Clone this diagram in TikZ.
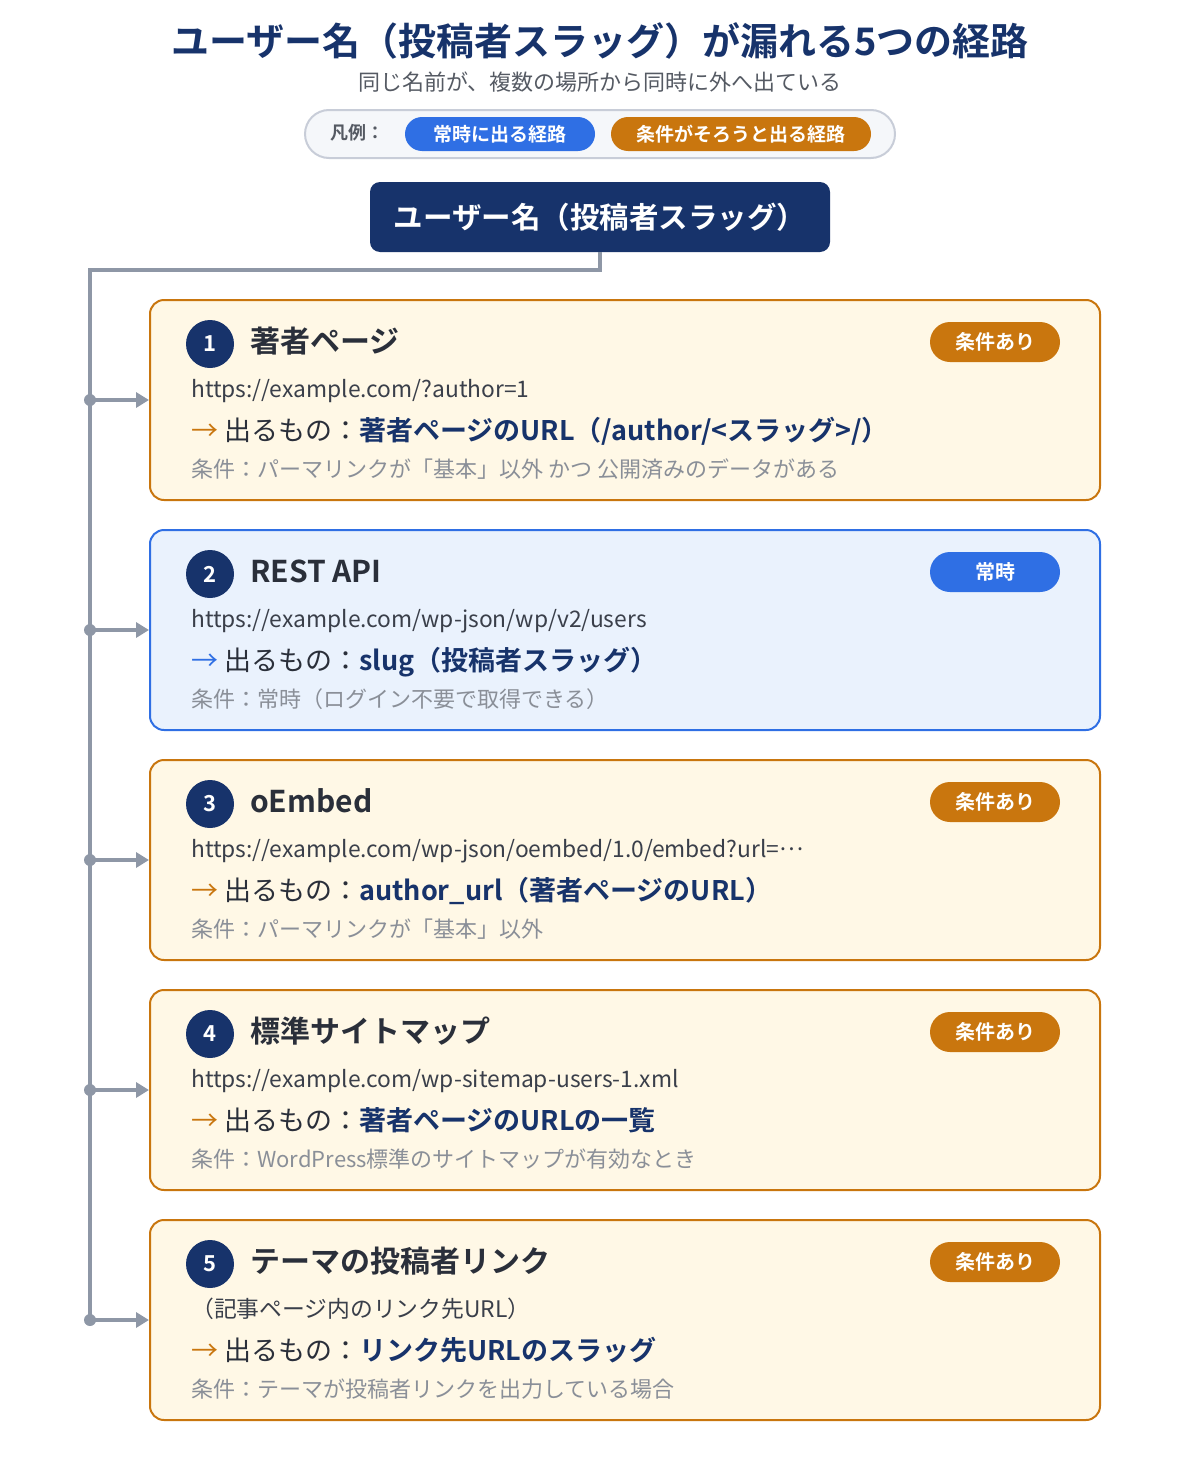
\documentclass[tikz,border=0pt]{standalone}
\usepackage{fontspec}
\setmainfont{Noto Sans CJK JP}[BoldFont={Noto Sans CJK JP Bold}]
\usepackage{tikz}
\usetikzlibrary{arrows.meta, positioning}

\definecolor{navy}{HTML}{17336B}
\definecolor{orangeC}{HTML}{C9760E}
\definecolor{blueC}{HTML}{2F6FE4}
\definecolor{cardO}{HTML}{FFF8E6}
\definecolor{cardB}{HTML}{EAF2FD}
\definecolor{wirecol}{HTML}{8E97A6}
\definecolor{darktext}{HTML}{2A2F3A}
\definecolor{urltext}{HTML}{3A3F4A}
\definecolor{condtext}{HTML}{8A8F98}
\definecolor{subgray}{HTML}{555A63}
\definecolor{legendfill}{HTML}{F5F7FA}
\definecolor{legendline}{HTML}{C8CDD8}

\begin{document}
\begin{tikzpicture}[x=1pt, y=-1pt, >={Triangle[length=13pt, width=15pt]}]
    \tikzstyle{txt} = [inner sep=0pt, anchor=base west]
    \tikzstyle{pill} = [text=white, inner sep=0pt, minimum height=34pt, rounded corners=17pt, font=\fontsize{19}{22}\selectfont\bfseries]
    \tikzstyle{card} = [draw=orangeC, line width=2pt, fill=cardO, rounded corners=14pt, minimum width=950pt, minimum height=200pt, inner sep=0pt]
    \tikzstyle{bluecard} = [card, draw=blueC, fill=cardB]
    \tikzstyle{numc} = [circle, fill=navy, text=white, minimum size=48pt, inner sep=0pt, font=\fontsize{22}{24}\selectfont\bfseries]
    \tikzstyle{badge} = [fill=orangeC, text=white, minimum width=130pt, minimum height=40pt, rounded corners=20pt, inner sep=0pt, font=\fontsize{20}{22}\selectfont\bfseries]
    \tikzstyle{cardtitle} = [txt, text=darktext, font=\fontsize{30}{34}\selectfont\bfseries]
    \tikzstyle{url} = [txt, text=urltext, font=\fontsize{22.8}{26}\selectfont]
    \tikzstyle{yield} = [txt, text=darktext, font=\fontsize{27}{30}\selectfont]
    \tikzstyle{cond} = [txt, text=condtext, font=\fontsize{22}{25}\selectfont]
    \tikzstyle{wire} = [draw=wirecol, line width=4pt]

    \useasboundingbox (0,0) rectangle (1200,1480);

    % header
    \node[font=\fontsize{38}{44}\selectfont\bfseries, text=navy] (title) at (600,41) {ユーザー名（投稿者スラッグ）が漏れる5つの経路};
    \node[font=\fontsize{22}{25}\selectfont, text=subgray] (subtitle) at (600,82) {同じ名前が、複数の場所から同時に外へ出ている};

    % legend
    \node[draw=legendline, line width=2pt, fill=legendfill, minimum width=590pt, minimum height=48pt, rounded corners=24pt] (legend) at (600,134) {};
    \node[font=\fontsize{18}{22}\selectfont\bfseries, text=subgray] (legendlabel) at (357,133) {凡例：};
    \node[pill, fill=blueC, minimum width=190pt] (legendA) at (500,134) {常時に出る経路};
    \node[pill, fill=orangeC, minimum width=260pt] (legendB) at (741,134) {条件がそろうと出る経路};

    % source
    \node[fill=navy, text=white, minimum width=460pt, minimum height=70pt, rounded corners=10pt, font=\fontsize{29.5}{32}\selectfont\bfseries] (user) at (600,217) {ユーザー名（投稿者スラッグ）};

    % cards
    \node[card] (card1) at (625,400) {};
    \node[bluecard] (card2) at (625,630) {};
    \node[card] (card3) at (625,860) {};
    \node[card] (card4) at (625,1090) {};
    \node[card] (card5) at (625,1320) {};

    % 1
    \node[numc] (num1) at (210,344) {1};
    \node[cardtitle] (title1) at (250,352) {著者ページ};
    \node[badge] (badge1) at (995,342) {条件あり};
    \node[url] (url1) at (191,397) {https://example.com/?author=1};
    \node[yield] (yield1) at (191,440) {{\color{orangeC}→} 出るもの：{\bfseries\color{navy}著者ページのURL（/author/<スラッグ>/）}};
    \node[cond] (cond1) at (191,477) {条件：パーマリンクが「基本」以外 かつ 公開済みのデータがある};

    % 2
    \node[numc] (num2) at (210,574) {2};
    \node[cardtitle] (title2) at (250,582) {REST API};
    \node[badge, fill=blueC] (badge2) at (995,572) {常時};
    \node[url] (url2) at (191,627) {https://example.com/wp-json/wp/v2/users};
    \node[yield] (yield2) at (191,670) {{\color{blueC}→} 出るもの：{\bfseries\color{navy}slug（投稿者スラッグ）}};
    \node[cond] (cond2) at (191,707) {条件：常時（ログイン不要で取得できる）};

    % 3
    \node[numc] (num3) at (210,804) {3};
    \node[cardtitle] (title3) at (250,812) {oEmbed};
    \node[badge] (badge3) at (995,802) {条件あり};
    \node[url] (url3) at (191,857) {https://example.com/wp-json/oembed/1.0/embed?url=\raisebox{0.3em}{…}};
    \node[yield] (yield3) at (191,900) {{\color{orangeC}→} 出るもの：{\bfseries\color{navy}author\_url（著者ページのURL）}};
    \node[cond] (cond3) at (191,937) {条件：パーマリンクが「基本」以外};

    % 4
    \node[numc] (num4) at (210,1034) {4};
    \node[cardtitle] (title4) at (250,1042) {標準サイトマップ};
    \node[badge] (badge4) at (995,1032) {条件あり};
    \node[url] (url4) at (191,1087) {https://example.com/wp-sitemap-users-1.xml};
    \node[yield] (yield4) at (191,1130) {{\color{orangeC}→} 出るもの：{\bfseries\color{navy}著者ページのURLの一覧}};
    \node[cond] (cond4) at (191,1167) {条件：WordPress標準のサイトマップが有効なとき};

    % 5
    \node[numc] (num5) at (210,1264) {5};
    \node[cardtitle] (title5) at (250,1272) {テーマの投稿者リンク};
    \node[badge] (badge5) at (995,1262) {条件あり};
    \node[url] (url5) at (191,1317) {（記事ページ内のリンク先URL）};
    \node[yield] (yield5) at (191,1360) {{\color{orangeC}→} 出るもの：{\bfseries\color{navy}リンク先URLのスラッグ}};
    \node[cond] (cond5) at (191,1397) {条件：テーマが投稿者リンクを出力している場合};

    % spine
    \coordinate (top) at (90,270);
    \coordinate (j1) at (90,400);
    \coordinate (j2) at (90,630);
    \coordinate (j3) at (90,860);
    \coordinate (j4) at (90,1090);
    \coordinate (j5) at (90,1320);

    \draw[wire] (user.south) |- (top) -- (j5);
    \draw[wire, ->, fill=wirecol] (j1) -- (card1.west);
    \draw[wire, ->, fill=wirecol] (j2) -- (card2.west);
    \draw[wire, ->, fill=wirecol] (j3) -- (card3.west);
    \draw[wire, ->, fill=wirecol] (j4) -- (card4.west);
    \draw[wire, ->, fill=wirecol] (j5) -- (card5.west);
    \fill[wirecol] (j1) circle (6pt) (j2) circle (6pt) (j3) circle (6pt) (j4) circle (6pt) (j5) circle (6pt);
\end{tikzpicture}
\end{document}
